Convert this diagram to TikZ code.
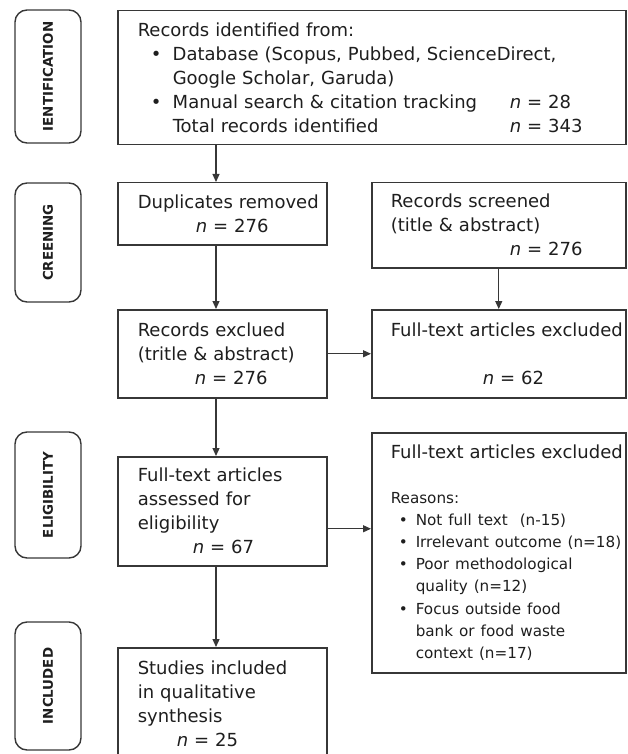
\documentclass[tikz,border=0pt]{standalone}
\usepackage{fontspec}
\setmainfont{DejaVu Sans}
\usetikzlibrary{arrows.meta,positioning}
\definecolor{ink}{RGB}{30,30,30}
\definecolor{rule}{RGB}{55,55,55}
\tikzset{
  stage/.style={draw=rule, rounded corners=6pt, line width=0.7pt, rotate=90,
              minimum height=33pt, inner sep=0pt, text=ink,
              font=\fontsize{6.7}{8}\selectfont\bfseries},
  box/.style={draw=rule, line width=0.75pt, anchor=north west, align=left,
              inner xsep=10pt, inner ysep=2pt, text width=84.5pt, text=ink,
              font=\fontsize{9}{12}\selectfont},
  side/.style={box, inner xsep=9.5pt, text width=108pt},
  flow/.style={-{Triangle[length=4pt,width=3.5pt]}, rule, line width=0.6pt},
}

\begin{document}
\begin{tikzpicture}[x=0.5pt, y=-0.5pt]
  \useasboundingbox (0,0) rectangle (627,754);
  \clip (0,0) rectangle (627,754);
  % stages
  \node[stage, minimum width=66.5pt] (iden) at (48,76.5) {IENTIFICATION};
  \node[stage, minimum width=59.5pt] (scre) at (48,242.5) {CREENING};
  \node[stage, minimum width=63pt] (elig) at (48,495) {ELIGIBILITY};
  \node[stage, minimum width=64pt] (incl) at (48,686) {INCLUDED};
  % boxes
  \node[box, text width=234pt, minimum height=67pt] (records) at (117,10) {Records identified from:\\
    \hspace*{6.5pt}\makebox[11pt][l]{\textbullet}Database (Scopus, Pubbed, ScienceDirect,\\
    \hspace*{17.5pt}Google Scholar, Garuda)\\
    \hspace*{6.5pt}\makebox[11pt][l]{\textbullet}\makebox[168.5pt][l]{Manual search \& citation tracking}\textit{n} = 28\\
    \hspace*{17.5pt}\makebox[168.5pt][l]{Total records identified}\textit{n} = 343};
  \node[box, minimum height=31pt] (dup) at (117,182) {\mbox{Duplicates removed}\\
    \hspace*{29pt}\textit{n} = 276};
  \node[side, minimum height=42.5pt] (screened) at (371,182) {Records screened\\
    (title \& abstract)\\
    \hspace*{59.5pt}\textit{n} = 276};
  \node[box, minimum height=44pt] (exclued) at (117,309) {Records exclued\\
    (tritle \& abstract)\\
    \hspace*{28.5pt}\textit{n} = 276};
  \node[side, minimum height=44pt] (ex62) at (371,309) {\mbox{Full-text articles excluded}\\
    \mbox{}\\
    \hspace*{46pt}\textit{n} = 62};
  \node[box, minimum height=54.5pt] (assessed) at (117,456) {Full-text articles\\
    assessed for\\
    eligibility\\
    \hspace*{27.5pt}\textit{n} = 67};
  \node[side, minimum height=120pt, font=\fontsize{9}{11.1}\selectfont] (ex2) at (371,432) {\mbox{Full-text articles excluded}\\
    \mbox{}\\
    \fontsize{7.6}{11.1}\selectfont Reasons:\\
    \hspace*{4pt}\makebox[8.5pt][l]{\textbullet}Not full text\ \ (n-15)\\
    \hspace*{4pt}\makebox[8.5pt][l]{\textbullet}\mbox{Irrelevant outcome (n=18)}\\
    \hspace*{4pt}\makebox[8.5pt][l]{\textbullet}Poor methodological\\
    \hspace*{12.5pt}quality (n=12)\\
    \hspace*{4pt}\makebox[8.5pt][l]{\textbullet}Focus outside food\\
    \hspace*{12.5pt}bank or food waste\\
    \hspace*{12.5pt}context (n=17)};
  \node[box, minimum height=56pt] (studies) at (117,647) {Studies included\\
    in qualitative\\
    synthesis\\
    \hspace*{19.5pt}\textit{n} = 25};
  % arrows
  \coordinate (lane) at (216,0);
  \draw[flow] (records.south -| lane) -- (dup.north -| lane);
  \draw[flow] (dup.south -| lane) -- (exclued.north -| lane);
  \draw[flow] (exclued.south -| lane) -- (assessed.north -| lane);
  \draw[flow] (assessed.south -| lane) -- (studies.north -| lane);
  \draw[flow] (screened.south) -- (ex62.north);
  \draw[flow] (exclued.east) -- (exclued.east -| ex62.west);
  \draw[flow] ([yshift=-8.75pt]assessed.east) -- ([yshift=-8.75pt]assessed.east -| ex2.west);
\end{tikzpicture}
\end{document}
